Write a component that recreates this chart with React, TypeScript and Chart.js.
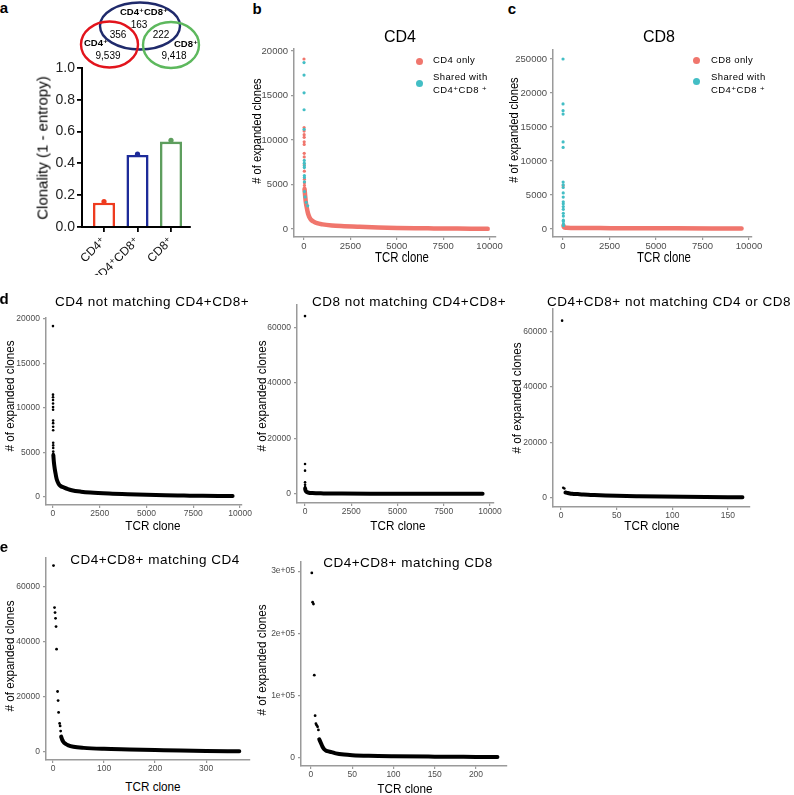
import React, { useEffect, useRef } from 'react';
import { Chart, registerables } from 'chart.js';
Chart.register(...registerables);

const FONT = "'Liberation Sans', Arial, 'DejaVu Sans', sans-serif";
const RED = '#F0766D';
const CYAN = '#43BEC5';
const BLACK = '#000000';
const AXIS = '#9a9a9a';
const TICKTXT = '#4d4d4d';

// ---------- Panel a data ----------
const aCategories = ['CD4⁺', 'CD4⁺CD8⁺', 'CD8⁺'];
const aPositions = [1, 2, 3];
const aClonality = [0.153, 0.453, 0.537];
const aReplicate = [0.160, 0.458, 0.545];
const aColors = ['#EE3B1F', '#1D2B99', '#5E9E5E'];
const aYTicks = [0, 0.2, 0.4, 0.6, 0.8, 1.0];
const aYLabels = ['0.0', '0.2', '0.4', '0.6', '0.8', '1.0'];
const vennSets = ['CD4⁺', 'CD4⁺CD8⁺', 'CD8⁺'];
const vennOnly = ['9,539', '163', '9,418'];
const vennOverlap = ['356', '222'];

// ---------- Panel b data (CD4) ----------
const bRedX = [1, 6, 8, 9, 10, 11, 12, 13, 14, 17, 20, 23, 25, 26, 27];
const bRedY = [19100, 11400, 11000, 10600, 10300, 9800, 9500, 8500, 8100, 7200, 6500, 5600, 5200, 4900, 4600];
const bCyanX = [2, 3, 4, 5, 7, 15, 16, 18, 19, 21, 22, 24, 28, 60, 120, 200];
const bCyanY = [18700, 17300, 15300, 13400, 11200, 7700, 7400, 7100, 6900, 6000, 5800, 5300, 4200, 3600, 3000, 2600];
const bCurveX = [30, 60, 100, 150, 200, 250, 300, 400, 500, 700, 1000, 1500, 2000, 3000, 4000, 5000, 6000, 7000, 8000, 9000, 9900];
const bCurveY = [4500, 3800, 3000, 2400, 1900, 1550, 1300, 1000, 850, 650, 520, 400, 330, 240, 170, 120, 90, 70, 50, 30, 15];
const rankTicks10k = [0, 2500, 5000, 7500, 10000];
const rankLabels10k = ['0', '2500', '5000', '7500', '10000'];
const bYTicks = [0, 5000, 10000, 15000, 20000];
const bYLabels = ['0', '5000', '10000', '15000', '20000'];

// ---------- Panel c data (CD8) ----------
const cCyanX = [1, 2, 3, 4, 5, 6, 7, 9, 10, 11, 12, 13, 14, 15, 16, 17, 18, 19, 20, 21, 22];
const cCyanY = [25000, 18400, 17400, 16900, 12800, 12000, 6900, 6500, 6100, 5300, 4700, 4000, 3700, 3300, 2900, 2300, 1900, 1300, 1100, 750, 500];
const cRedX = [8];
const cRedY = [6350];
const cCurveX = [25, 40, 60, 100, 200, 500, 1000, 2000, 4000, 6000, 8000, 9600];
const cCurveY = [500, 350, 250, 200, 170, 150, 140, 130, 110, 100, 90, 80];
const cYTicks = [0, 5000, 10000, 15000, 20000, 25000];
const cYLabels = ['0', '5000', '10000', '15000', '20000', '250000'];

// ---------- Panel d data ----------
const d1X = [1, 2, 3, 4, 5, 6, 7, 8, 9, 10, 11, 12, 13, 14, 15, 16];
const d1Y = [19200, 11500, 11200, 10900, 10500, 10100, 9800, 8600, 8300, 7900, 7500, 6100, 5800, 5500, 5100, 4850];
const d1CurveX = [20, 50, 100, 150, 200, 300, 400, 600, 800, 1000, 1500, 2000, 3000, 4000, 5000, 6000, 7000, 8000, 9000, 9600];
const d1CurveY = [4700, 3900, 3100, 2500, 2000, 1500, 1250, 1050, 880, 760, 600, 500, 380, 300, 240, 190, 160, 130, 110, 100];
const d2X = [1, 2, 3, 4, 5, 6];
const d2Y = [64000, 10800, 8400, 4200, 3300, 2500];
const d2CurveX = [8, 20, 50, 100, 200, 400, 1000, 2000, 4000, 6000, 8000, 9600];
const d2CurveY = [2000, 1500, 1000, 700, 450, 320, 220, 160, 120, 100, 80, 60];
const d3X = [1, 2, 3];
const d3Y = [63800, 3700, 3400];
const d3CurveX = [4, 6, 8, 10, 15, 20, 30, 40, 50, 70, 90, 110, 130, 150, 163];
const d3CurveY = [2000, 1800, 1650, 1550, 1400, 1250, 1050, 900, 800, 650, 520, 420, 340, 280, 250];
const d60kTicks = [0, 20000, 40000, 60000];
const d60kLabels = ['0', '20000', '40000', '60000'];
const d3XTicks = [0, 50, 100, 150];
const d3XLabels = ['0', '50', '100', '150'];

// ---------- Panel e data ----------
const e1X = [1, 3, 4, 5, 6, 7, 9, 10, 11, 13, 14, 15];
const e1Y = [67800, 52500, 50700, 48600, 45600, 37400, 22000, 18700, 14400, 10400, 9500, 7600];
const e1CurveX = [16, 18, 20, 25, 30, 40, 60, 100, 150, 200, 250, 300, 365];
const e1CurveY = [5600, 4500, 3800, 2900, 2400, 1900, 1500, 1150, 950, 750, 550, 400, 250];
const e1XTicks = [0, 100, 200, 300];
const e1XLabels = ['0', '100', '200', '300'];
const e2X = [1, 2, 3, 4, 5, 6, 7, 8, 9];
const e2Y = [297000, 250000, 247000, 133000, 68000, 55000, 52500, 50000, 45000];
const e2CurveX = [10, 12, 14, 16, 18, 20, 25, 30, 40, 50, 70, 100, 150, 200, 226];
const e2CurveY = [30000, 24000, 18000, 14000, 12000, 11000, 9500, 7500, 5500, 4500, 3500, 2800, 2200, 1800, 1600];
const e2XTicks = [0, 50, 100, 150, 200];
const e2XLabels = ['0', '50', '100', '150', '200'];
const e2YTicks = [0, 100000, 200000, 300000];
const e2YLabels = ['0', '1e+05', '2e+05', '3e+05'];

// ---------- helpers ----------
const pts = (xs: number[], ys: number[]) => xs.map((x, i) => ({ x, y: ys[i] }));
const dots = (xs: number[], ys: number[], color: string, r = 1.5) => ({
  data: pts(xs, ys), showLine: false, pointRadius: r, pointBackgroundColor: color,
  pointBorderWidth: 0, pointBorderColor: color,
});
const curve = (xs: number[], ys: number[], color: string, w = 4) => ({
  data: pts(xs, ys), showLine: true, pointRadius: 0, borderColor: color, borderWidth: w,
  cubicInterpolationMode: 'monotone', borderCapStyle: 'round', fill: false,
});

type PanelCfg = {
  box: [number, number, number, number];
  area: [number, number, number, number];
  xr: [number, number]; yr: [number, number];
  xTicks: number[]; xLabels: string[]; yTicks: number[]; yLabels: string[];
  fontSize: number; datasets: any[];
};

function axisOpts(ticks: number[], labels: string[], range: [number, number], fontSize: number, fix: (s: any) => void, pad: number) {
  return {
    type: 'linear', min: range[0], max: range[1], offset: false,
    afterBuildTicks: (s: any) => { s.ticks = ticks.map((v) => ({ value: v })); },
    afterFit: fix,
    ticks: {
      autoSkip: false, maxRotation: 0, minRotation: 0, padding: pad,
      font: { family: FONT, size: fontSize }, color: TICKTXT,
      callback: (v: number) => labels[ticks.indexOf(v)],
    },
    grid: { display: true, drawOnChartArea: false, drawTicks: true, tickLength: 3, color: AXIS, tickColor: AXIS, lineWidth: 1.2 },
    border: { display: true, color: AXIS, width: 1.5 },
  };
}

function makePanel(canvas: HTMLCanvasElement, p: PanelCfg) {
  const [bl, bt, bw, bh] = p.box;
  const [al, at, ar, ab] = p.area;
  const yW = al - bl;
  const xH = bt + bh - ab;
  return new Chart(canvas, {
    type: 'scatter',
    data: { datasets: p.datasets },
    options: {
      animation: false, responsive: false, events: [],
      layout: { padding: { left: 0, top: at - bt, right: bl + bw - ar, bottom: 0 } },
      plugins: { legend: { display: false }, tooltip: { enabled: false } },
      scales: {
        x: axisOpts(p.xTicks, p.xLabels, p.xr, p.fontSize, (s: any) => { s.height = xH; }, 1),
        y: axisOpts(p.yTicks, p.yLabels, p.yr, p.fontSize, (s: any) => { s.width = yW; }, 3),
      },
    } as any,
  });
}

const A_BOX: [number, number, number, number] = [30, 0, 172, 275];
const A_AREA: [number, number, number, number] = [82, 68, 190, 227];
const vennShapes = [
  { cx: 140, cy: 26, rx: 40, ry: 23.5, color: '#1F2A6B' },
  { cx: 109.5, cy: 44.5, rx: 28.5, ry: 23, color: '#E2141C' },
  { cx: 171, cy: 45, rx: 28, ry: 23, color: '#5DB85D' },
];

function makeA(canvas: HTMLCanvasElement) {
  const [bl, bt, bw, bh] = A_BOX;
  const [al, at, ar, ab] = A_AREA;
  const venn = {
    id: 'venn',
    afterDraw(chart: any) {
      const ctx = chart.ctx;
      ctx.save();
      ctx.lineWidth = 2.4;
      vennShapes.forEach((e) => {
        ctx.strokeStyle = e.color;
        ctx.beginPath();
        ctx.ellipse(e.cx - bl, e.cy - bt, e.rx, e.ry, 0, 0, Math.PI * 2);
        ctx.stroke();
      });
      ctx.restore();
    },
  };
  const axisBase = {
    grid: { display: true, drawOnChartArea: false, drawTicks: true, tickLength: 5, color: '#000', tickColor: '#000', lineWidth: 1.8, offset: false },
    border: { display: true, color: '#000', width: 2 },
  };
  return new Chart(canvas, {
    type: 'bar',
    data: {
      datasets: [
        { type: 'scatter', data: pts(aPositions, aReplicate), pointRadius: 2.6, pointBackgroundColor: aColors, pointBorderColor: aColors, pointBorderWidth: 0 },
        { type: 'bar', data: pts(aPositions, aClonality), backgroundColor: '#ffffff', borderColor: aColors, borderWidth: 2.6, barPercentage: 0.66, categoryPercentage: 1, borderSkipped: 'bottom' },
      ],
    },
    options: {
      animation: false, responsive: false, events: [],
      layout: { padding: { left: 0, top: at - bt, right: bl + bw - ar, bottom: 0 } },
      plugins: { legend: { display: false }, tooltip: { enabled: false } },
      scales: {
        x: {
          ...axisBase, type: 'linear', min: 0.343, max: 3.567, offset: false,
          afterBuildTicks: (s: any) => { s.ticks = aPositions.map((v) => ({ value: v })); },
          afterFit: (s: any) => { s.height = bt + bh - ab; },
          ticks: { autoSkip: false, minRotation: 45, maxRotation: 45, padding: 2, font: { family: FONT, size: 12 }, color: '#111', callback: (v: number) => aCategories[aPositions.indexOf(v)] },
        },
        y: {
          ...axisBase, type: 'linear', min: 0, max: 1,
          afterBuildTicks: (s: any) => { s.ticks = aYTicks.map((v) => ({ value: v })); },
          afterFit: (s: any) => { s.width = al - bl; },
          ticks: { autoSkip: false, padding: 2, font: { family: FONT, size: 14 }, color: '#222', callback: (v: number) => aYLabels[aYTicks.indexOf(v)] },
        },
      },
    } as any,
    plugins: [venn],
  });
}

const panels: PanelCfg[] = [
  { // b
    box: [262, 40, 242, 225], area: [294, 49, 496, 237], xr: [-538, 10323], yr: [-899, 20225],
    xTicks: rankTicks10k, xLabels: rankLabels10k, yTicks: bYTicks, yLabels: bYLabels, fontSize: 9.5,
    datasets: [dots(bCyanX, bCyanY, CYAN, 1.6), dots(bRedX, bRedY, RED, 1.6), curve(bCurveX, bCurveY, RED, 4.5)],
  },
  { // c
    box: [513, 40, 251, 225], area: [553, 50, 752, 237], xr: [-538, 10161], yr: [-1176, 26324],
    xTicks: rankTicks10k, xLabels: rankLabels10k, yTicks: cYTicks, yLabels: cYLabels, fontSize: 9.5,
    datasets: [dots(cCyanX, cCyanY, CYAN, 1.6), dots(cRedX, cRedY, RED, 1.6), curve(cCurveX, cCurveY, RED, 4.5)],
  },
  { // d1
    box: [8, 305, 245, 217], area: [46, 318, 243, 505], xr: [-372, 10106], yr: [-899, 20112],
    xTicks: rankTicks10k, xLabels: rankLabels10k, yTicks: bYTicks, yLabels: bYLabels, fontSize: 8.5,
    datasets: [dots(d1X, d1Y, BLACK, 1.3), curve(d1CurveX, d1CurveY, BLACK, 4)],
  },
  { // d2
    box: [262, 295, 242, 227], area: [297, 305, 494, 503], xr: [-432, 10216], yr: [-3237, 67986],
    xTicks: rankTicks10k, xLabels: rankLabels10k, yTicks: d60kTicks, yLabels: d60kLabels, fontSize: 8.5,
    datasets: [dots(d2X, d2Y, BLACK, 1.3), curve(d2CurveX, d2CurveY, BLACK, 4)],
  },
  { // d3
    box: [518, 299, 242, 223], area: [553, 309, 750, 507], xr: [-7.19, 169.8], yr: [-3237, 67986],
    xTicks: d3XTicks, xLabels: d3XLabels, yTicks: d60kTicks, yLabels: d60kLabels, fontSize: 8.5,
    datasets: [dots(d3X, d3Y, BLACK, 1.3), curve(d3CurveX, d3CurveY, BLACK, 4)],
  },
  { // e1
    box: [8, 548, 252, 229], area: [46, 558, 250, 760], xr: [-13.7, 386], yr: [-2909, 70545],
    xTicks: e1XTicks, xLabels: e1XLabels, yTicks: d60kTicks, yLabels: d60kLabels, fontSize: 8.5,
    datasets: [dots(e1X, e1Y, BLACK, 1.4), curve(e1CurveX, e1CurveY, BLACK, 4)],
  },
  { // e2
    box: [262, 552, 255, 231], area: [301, 562, 507, 766], xr: [-12.1, 237.6], yr: [-12841, 314607],
    xTicks: e2XTicks, xLabels: e2XLabels, yTicks: e2YTicks, yLabels: e2YLabels, fontSize: 8.5,
    datasets: [dots(e2X, e2Y, BLACK, 1.4), curve(e2CurveX, e2CurveY, BLACK, 4)],
  },
];

type TP = { x: number; y: number; s: number; t: string; rot?: number; bold?: boolean; ls?: number; sx?: number; align?: 'center' | 'left'; color?: string };
function T({ x, y, s, t, rot = 0, bold = false, ls = 0, sx = 1, align = 'center', color = '#000' }: TP) {
  const tx = align === 'center' ? '-50%' : '0';
  return (
    <div style={{
      position: 'absolute', left: x, top: y, fontSize: s, lineHeight: 1, whiteSpace: 'nowrap',
      fontWeight: bold ? 700 : 400, letterSpacing: ls, color, fontFamily: FONT,
      transformOrigin: align === 'center' ? '50% 50%' : '0 50%',
      transform: `translate(${tx}, -50%) rotate(${rot}deg) scaleX(${sx})`,
    }}>{t}</div>
  );
}
function Dot({ x, y, c }: { x: number; y: number; c: string }) {
  return <div style={{ position: 'absolute', left: x - 3.5, top: y - 3.5, width: 7, height: 7, borderRadius: '50%', background: c }} />;
}

export default function App() {
  const aRef = useRef<HTMLCanvasElement>(null);
  const refs = useRef<(HTMLCanvasElement | null)[]>([]);
  useEffect(() => {
    const charts: Chart[] = [];
    if (aRef.current) charts.push(makeA(aRef.current));
    panels.forEach((p, i) => { const c = refs.current[i]; if (c) charts.push(makePanel(c, p)); });
    return () => charts.forEach((c) => c.destroy());
  }, []);

  const cv = (box: [number, number, number, number]) => ({ position: 'absolute' as const, left: box[0], top: box[1], width: box[2], height: box[3] });
  const ylab = '# of expanded clones';
  return (
    <div style={{ position: 'absolute', left: 0, top: 0, width: 794, height: 795, background: '#fff', overflow: 'hidden', fontFamily: FONT }}>
      <canvas ref={aRef} width={A_BOX[2]} height={A_BOX[3]} style={cv(A_BOX)} />
      {panels.map((p, i) => (
        <canvas key={i} ref={(el) => { refs.current[i] = el; }} width={p.box[2]} height={p.box[3]} style={cv(p.box)} />
      ))}

      {/* panel letters */}
      <T x={4} y={6.6} s={15} bold t="a" />
      <T x={257} y={8} s={15} bold t="b" />
      <T x={512} y={7.6} s={15} bold t="c" />
      <T x={4} y={298} s={15} bold t="d" />
      <T x={4} y={546} s={15} bold t="e" />

      {/* panel a texts */}
      <T x={144} y={12} s={9.5} bold t={vennSets[1]} />
      <T x={139} y={25} s={10} t={vennOnly[1]} />
      <T x={118} y={35} s={10} t={vennOverlap[0]} />
      <T x={161} y={35} s={10} t={vennOverlap[1]} />
      <T x={96} y={43} s={9.5} bold t={vennSets[0]} />
      <T x={108} y={56} s={10} t={vennOnly[0]} />
      <T x={186} y={44} s={9.5} bold t={vennSets[2]} />
      <T x={174} y={56} s={10} t={vennOnly[2]} />
      <T x={41.5} y={147.5} s={15} rot={-90} t="Clonality (1 - entropy)" />

      {/* panel b */}
      <T x={400} y={37} s={16} t="CD4" />
      <T x={402} y={256} s={15} sx={0.76} t="TCR clone" />
      <T x={257} y={131} s={13.5} sx={0.82} rot={-90} t={ylab} />
      <Dot x={419} y={61} c={RED} />
      <Dot x={419} y={83} c={CYAN} />
      <T x={433} y={60} s={9.5} align="left" ls={0.4} t="CD4 only" />
      <T x={433} y={77} s={9.5} align="left" ls={0.4} t="Shared with" />
      <T x={433} y={90} s={9.5} align="left" ls={0.4} t="CD4⁺CD8 ⁺" />

      {/* panel c */}
      <T x={659} y={37} s={16} t="CD8" />
      <T x={664} y={256} s={15} sx={0.76} t="TCR clone" />
      <T x={514} y={130} s={13.5} sx={0.82} rot={-90} t={ylab} />
      <Dot x={696} y={60} c={RED} />
      <Dot x={696} y={81} c={CYAN} />
      <T x={711} y={60} s={9.5} align="left" ls={0.4} t="CD8 only" />
      <T x={711} y={77} s={9.5} align="left" ls={0.4} t="Shared with" />
      <T x={711} y={90} s={9.5} align="left" ls={0.4} t="CD4⁺CD8 ⁺" />

      {/* panel d */}
      <T x={152} y={302} s={13.5} ls={0.5} t="CD4 not matching CD4+CD8+" />
      <T x={409} y={302} s={13.5} ls={0.5} t="CD8 not matching CD4+CD8+" />
      <T x={669} y={302} s={13.5} ls={0.5} t="CD4+CD8+ not matching CD4 or CD8" />
      <T x={153} y={525} s={13} sx={0.9} t="TCR clone" />
      <T x={398} y={525} s={13} sx={0.9} t="TCR clone" />
      <T x={652} y={525} s={13} sx={0.9} t="TCR clone" />
      <T x={8.5} y={396} s={13} sx={0.9} rot={-90} t={ylab} />
      <T x={261} y={396} s={13} sx={0.9} rot={-90} t={ylab} />
      <T x={516} y={398} s={13} sx={0.9} rot={-90} t={ylab} />

      {/* panel e */}
      <T x={155} y={560} s={13.5} ls={0.5} t="CD4+CD8+ matching CD4" />
      <T x={408} y={563} s={13.5} ls={0.5} t="CD4+CD8+ matching CD8" />
      <T x={153} y={786} s={13} sx={0.9} t="TCR clone" />
      <T x={405} y={788} s={13} sx={0.9} t="TCR clone" />
      <T x={8.5} y={656} s={13} sx={0.9} rot={-90} t={ylab} />
      <T x={261} y={660} s={13} sx={0.9} rot={-90} t={ylab} />
    </div>
  );
}
